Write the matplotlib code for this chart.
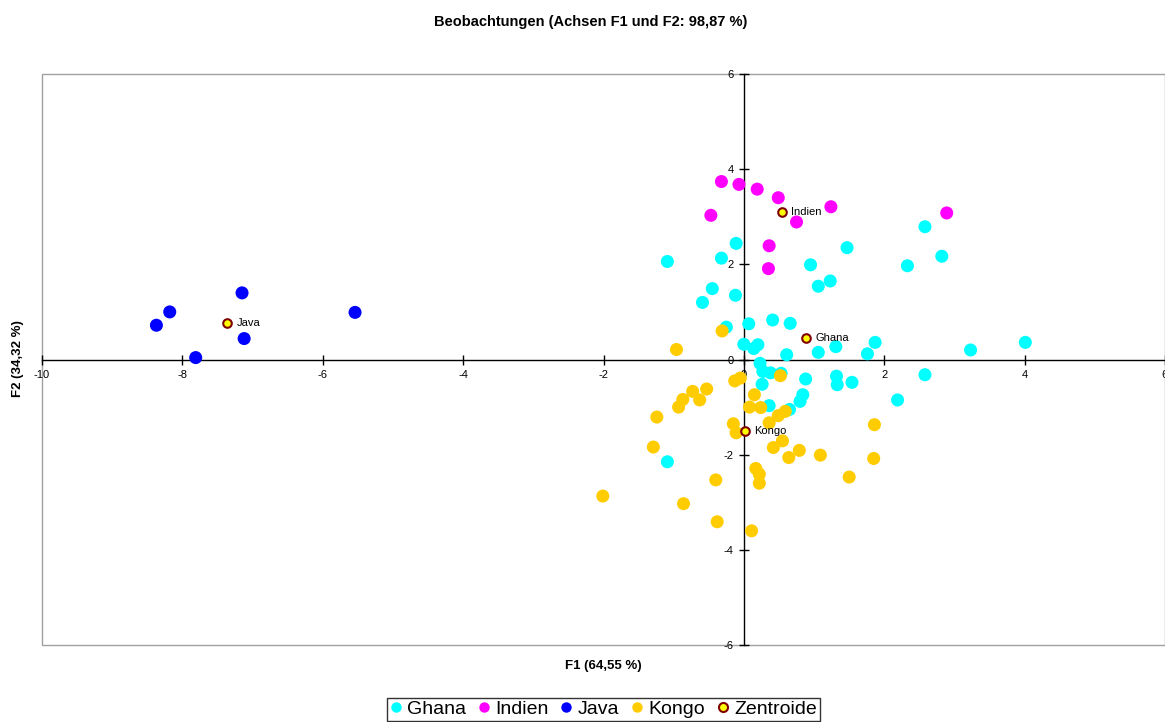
import numpy as np
import matplotlib.pyplot as plt
from matplotlib.lines import Line2D
from matplotlib.patches import Rectangle

plt.rcParams['font.family'] = ['Liberation Sans', 'DejaVu Sans']
plt.rcParams['axes.unicode_minus'] = False

# observations (F1, F2)
ghana_f1 = [-0.11, -1.09, -0.32, 0.95, 1.47, 1.06, 1.23, -0.45, -0.59, -0.12,
            -0.25, 0.07, 0.41, 0.66, 0.00, 0.14, 0.20, 0.61, 1.06, 1.31,
            1.76, 1.87, 3.23, 2.58, 2.33, 2.82, 4.01, 2.58, 1.54, 2.19,
            0.23, 0.27, 0.38, 0.53, 0.26, 0.88, 1.32, 1.33, 0.84, 0.80,
            0.36, 0.65, -1.09]
ghana_f2 = [2.44, 2.06, 2.13, 1.99, 2.35, 1.54, 1.65, 1.49, 1.20, 1.35,
            0.68, 0.75, 0.83, 0.76, 0.32, 0.23, 0.31, 0.10, 0.15, 0.27,
            0.12, 0.36, 0.20, 2.79, 1.97, 2.17, 0.36, -0.32, -0.48, -0.85,
            -0.08, -0.25, -0.28, -0.29, -0.52, -0.41, -0.35, -0.53, -0.74, -0.88,
            -0.97, -1.05, -2.15]

indien_f1 = [-0.32, -0.07, 0.19, 0.49, 1.24, -0.47, 0.75, 0.36, 0.35, 2.89]
indien_f2 = [3.74, 3.68, 3.58, 3.40, 3.21, 3.03, 2.89, 2.39, 1.91, 3.08]

java_f1 = [-7.15, -8.18, -8.37, -7.12, -7.81, -5.54]
java_f2 = [1.40, 1.00, 0.72, 0.44, 0.04, 0.99]

kongo_f1 = [-0.31, -0.96, -0.13, -0.05, 0.52, -0.53, -0.73, -0.63, -0.87, -0.93,
            0.15, 0.08, 0.24, 0.49, 0.59, 0.36, -1.24, -0.15, -0.11, 0.55,
            0.42, 0.79, 0.64, 1.09, 1.86, 1.85, -1.29, 1.50, 0.17, 0.22,
            0.22, -0.40, -2.01, -0.86, -0.38, 0.11]
kongo_f2 = [0.60, 0.21, -0.45, -0.39, -0.34, -0.62, -0.67, -0.85, -0.84, -1.00,
            -0.74, -1.00, -1.01, -1.18, -1.09, -1.33, -1.21, -1.35, -1.54, -1.71,
            -1.85, -1.91, -2.06, -2.01, -1.37, -2.08, -1.84, -2.47, -2.29, -2.41,
            -2.60, -2.53, -2.87, -3.03, -3.41, -3.60]

centroid_names = ['Ghana', 'Indien', 'Java', 'Kongo']
centroid_f1 = [0.88, 0.54, -7.36, 0.01]
centroid_f2 = [0.46, 3.09, 0.76, -1.51]

groups = [
    ('Ghana', ghana_f1, ghana_f2, '#00FFFF'),
    ('Indien', indien_f1, indien_f2, '#FF00FF'),
    ('Java', java_f1, java_f2, '#0000FF'),
    ('Kongo', kongo_f1, kongo_f2, '#FFCC00'),
]

fig = plt.figure(figsize=(11.65, 7.22), dpi=100)
ax = fig.add_axes([42 / 1165, 77 / 722, 1123 / 1165, 571 / 722])

for name, xs, ys, col in groups:
    ax.scatter(xs, ys, s=88, color=col, edgecolors='none', zorder=3, clip_on=False)

ax.scatter(centroid_f1, centroid_f2, s=38, color='#FFFF00', edgecolors='#800000',
           linewidths=1.5, zorder=4)
for name, x, y in zip(centroid_names, centroid_f1, centroid_f2):
    ax.annotate(name, (x, y), xytext=(7, 0), textcoords='offset points',
                va='center', ha='left', fontsize=8, zorder=5)

ax.set_xlim(-10, 6)
ax.set_ylim(-6, 6)
ax.spines['left'].set_position(('data', 0))
ax.spines['bottom'].set_position(('data', 0))
ax.spines['top'].set_visible(False)
ax.spines['right'].set_visible(False)
for s in ('left', 'bottom'):
    ax.spines[s].set_color('black')
    ax.spines[s].set_linewidth(1)
ax.add_patch(Rectangle((0, 0), 1, 1, transform=ax.transAxes, fill=False,
                       edgecolor='#a0a0a0', lw=1, clip_on=False, zorder=1))

ax.set_xticks(np.arange(-10, 7, 2))
ax.set_yticks(np.arange(-6, 7, 2))
ax.tick_params(direction='inout', length=7, width=1, labelsize=8, pad=4)

fig.text(591 / 1165, 1 - 22 / 722, 'Beobachtungen (Achsen F1 und F2: 98,87 %)',
         ha='center', va='center', fontsize=10.5, fontweight='bold')
fig.text(603.5 / 1165, 1 - 666 / 722, 'F1 (64,55 %)', ha='center', va='center',
         fontsize=9.5, fontweight='bold')
fig.text(18 / 1165, 1 - 359 / 722, 'F2 (34,32 %)', ha='center', va='center',
         rotation=90, fontsize=9.5, fontweight='bold')

handles = [Line2D([], [], marker='o', ls='none', markersize=7.5, markerfacecolor=c,
                  markeredgecolor='none') for _, _, _, c in groups]
handles.append(Line2D([], [], marker='o', ls='none', markersize=6.5,
                      markerfacecolor='#FFFF00', markeredgecolor='#800000',
                      markeredgewidth=1.5))
labels = [g[0] for g in groups] + ['Zentroide']
leg = fig.legend(handles, labels, loc='lower center', ncol=5,
                 bbox_to_anchor=(603.5 / 1165, 0.0), fontsize=14, frameon=True,
                 fancybox=False, edgecolor='black', handlelength=0.6,
                 handletextpad=0.3, columnspacing=0.6, borderpad=0.15,
                 borderaxespad=0.05)
leg.get_frame().set_linewidth(1)

fig.savefig('out.png', dpi=100)
